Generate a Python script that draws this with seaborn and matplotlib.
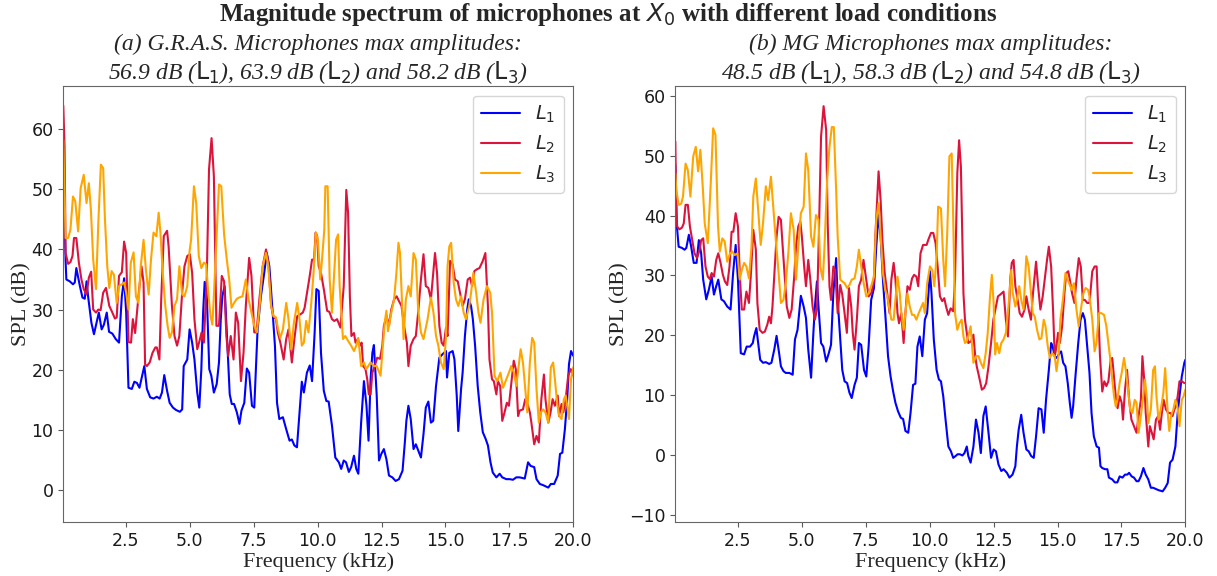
import matplotlib
matplotlib.use("Agg")
import matplotlib.pyplot as plt
import pandas as pd
import seaborn as sns

# ---- (a) G.R.A.S. microphones ----
gras_l1_f = [0.05, 0.14, 0.17, 0.30, 0.43, 0.50, 0.56, 0.70, 0.80, 0.89,
             0.96, 1.02, 1.15, 1.25, 1.44, 1.55, 1.64, 1.75, 1.84, 1.97,
             2.10, 2.23, 2.34, 2.43, 2.51, 2.60, 2.73, 2.83, 2.93, 3.03,
             3.12, 3.22, 3.32, 3.45, 3.58, 3.71, 3.82, 3.91, 4.00, 4.11,
             4.21, 4.34, 4.46, 4.61, 4.70, 4.76, 4.90, 4.99, 5.09, 5.18,
             5.29, 5.37, 5.45, 5.52, 5.58, 5.66, 5.76, 5.84, 5.94, 6.05,
             6.14, 6.21, 6.27, 6.36, 6.47, 6.56, 6.64, 6.73, 6.84, 6.94,
             7.02, 7.13, 7.23, 7.32, 7.43, 7.52, 7.65, 7.78, 7.91, 8.01,
             8.11, 8.24, 8.33, 8.41, 8.50, 8.64, 8.77, 8.90, 8.99, 9.09,
             9.19, 9.29, 9.38, 9.46, 9.58, 9.69, 9.78, 9.88, 9.95, 10.04,
             10.13, 10.24, 10.34, 10.43, 10.56, 10.69, 10.83, 10.92, 11.02, 11.11,
             11.22, 11.31, 11.42, 11.51, 11.59, 11.70, 11.81, 11.91, 11.99, 12.07,
             12.14, 12.20, 12.31, 12.40, 12.49, 12.59, 12.69, 12.79, 12.92, 13.05,
             13.18, 13.32, 13.41, 13.47, 13.55, 13.64, 13.75, 13.84, 13.94, 14.04,
             14.14, 14.23, 14.33, 14.43, 14.52, 14.63, 14.76, 14.89, 15.02, 15.06,
             15.15, 15.28, 15.35, 15.44, 15.50, 15.61, 15.67, 15.76, 15.85, 15.91,
             16.00, 16.07, 16.16, 16.26, 16.36, 16.46, 16.57, 16.66, 16.76, 16.85,
             16.99, 17.12, 17.22, 17.38, 17.51, 17.64, 17.77, 17.90, 18.10, 18.23,
             18.33, 18.47, 18.56, 18.69, 18.82, 19.02, 19.12, 19.25, 19.39, 19.48,
             19.57, 19.67, 19.76, 19.83, 19.91, 20.00]
gras_l1_db = [56.9, 38.1, 35.0, 34.7, 34.2, 34.5, 36.9, 33.9, 32.0, 31.8,
              34.7, 32.2, 27.8, 25.9, 29.5, 26.7, 27.5, 29.5, 26.3, 26.0,
              25.1, 24.5, 32.2, 35.2, 29.5, 17.0, 16.8, 18.0, 17.8, 17.0,
              18.7, 20.6, 16.8, 15.4, 15.2, 15.5, 15.2, 16.2, 19.1, 16.5,
              14.5, 13.7, 13.3, 13.0, 13.4, 20.6, 21.7, 26.7, 24.5, 21.7,
              16.2, 13.7, 20.1, 29.5, 34.6, 32.8, 20.1, 19.0, 16.2, 17.6,
              21.2, 28.4, 32.2, 33.9, 23.9, 15.9, 14.3, 14.3, 12.9, 11.0,
              13.2, 14.5, 20.2, 19.5, 14.0, 13.7, 26.7, 32.2, 36.1, 39.4,
              37.2, 29.5, 23.9, 14.5, 11.8, 12.1, 10.1, 8.2, 8.4, 7.4,
              7.1, 12.9, 18.0, 16.2, 19.5, 20.7, 18.1, 26.0, 33.4, 33.1,
              22.8, 16.5, 14.8, 14.7, 10.7, 5.4, 4.6, 3.5, 4.9, 4.6,
              3.0, 3.8, 5.7, 3.5, 2.7, 11.2, 18.1, 14.0, 8.2, 18.4,
              22.8, 24.1, 15.7, 4.9, 6.0, 6.8, 5.1, 2.4, 2.1, 1.5,
              1.8, 3.2, 7.9, 11.5, 14.0, 11.8, 6.8, 7.6, 6.5, 5.4,
              9.3, 13.7, 14.7, 11.2, 11.5, 17.3, 22.0, 22.6, 23.1, 18.7,
              22.8, 23.1, 21.7, 15.7, 9.8, 16.8, 19.5, 25.6, 30.0, 31.7,
              30.6, 28.4, 23.9, 17.3, 12.9, 9.6, 8.5, 7.4, 4.6, 2.9,
              2.1, 2.7, 2.1, 1.8, 1.8, 1.7, 2.1, 2.1, 1.9, 4.6,
              4.0, 3.8, 1.8, 1.0, 0.8, 0.4, 1.0, 1.0, 2.4, 6.0,
              6.2, 10.1, 15.1, 20.9, 23.1, 22.3]

gras_l2_f = [0.05, 0.10, 0.14, 0.24, 0.33, 0.41, 0.47, 0.56, 0.66, 0.76,
             0.85, 0.96, 1.05, 1.14, 1.22, 1.33, 1.42, 1.51, 1.61, 1.72,
             1.78, 1.85, 1.97, 2.07, 2.14, 2.23, 2.34, 2.43, 2.51, 2.60,
             2.70, 2.77, 2.86, 2.99, 3.11, 3.19, 3.25, 3.32, 3.43, 3.54,
             3.65, 3.71, 3.81, 3.88, 3.98, 4.11, 4.17, 4.30, 4.40, 4.50,
             4.59, 4.70, 4.79, 4.90, 5.00, 5.09, 5.18, 5.29, 5.38, 5.46,
             5.55, 5.66, 5.75, 5.85, 5.94, 6.04, 6.14, 6.25, 6.34, 6.43,
             6.50, 6.60, 6.71, 6.80, 6.89, 7.00, 7.10, 7.19, 7.32, 7.41,
             7.52, 7.61, 7.72, 7.85, 7.98, 8.07, 8.18, 8.27, 8.37, 8.44,
             8.54, 8.67, 8.77, 8.86, 8.99, 9.09, 9.20, 9.32, 9.42, 9.49,
             9.59, 9.69, 9.78, 9.86, 9.92, 9.98, 10.04, 10.13, 10.24, 10.37,
             10.46, 10.56, 10.65, 10.76, 10.89, 11.02, 11.12, 11.19, 11.26, 11.32,
             11.42, 11.48, 11.57, 11.65, 11.72, 11.78, 11.87, 11.94, 12.00, 12.07,
             12.14, 12.23, 12.33, 12.44, 12.53, 12.59, 12.70, 12.79, 12.88, 12.99,
             13.09, 13.18, 13.28, 13.38, 13.49, 13.55, 13.64, 13.75, 13.84, 13.93,
             14.04, 14.14, 14.23, 14.33, 14.43, 14.50, 14.59, 14.67, 14.76, 14.85,
             14.93, 15.02, 15.08, 15.18, 15.28, 15.37, 15.48, 15.57, 15.67, 15.76,
             15.87, 15.96, 16.04, 16.13, 16.23, 16.33, 16.46, 16.56, 16.66, 16.72,
             16.82, 16.89, 16.99, 17.05, 17.14, 17.22, 17.31, 17.40, 17.48, 17.57,
             17.67, 17.75, 17.84, 17.90, 18.03, 18.12, 18.23, 18.30, 18.36, 18.47,
             18.56, 18.65, 18.75, 18.85, 18.91, 19.02, 19.11, 19.19, 19.28, 19.39,
             19.44, 19.54, 19.61, 19.70, 19.80, 19.90, 20.00]
gras_l2_db = [63.9, 57.1, 39.4, 37.6, 37.9, 38.9, 41.9, 41.9, 37.8, 35.0,
              33.4, 32.5, 35.3, 36.3, 30.0, 29.5, 30.0, 29.9, 32.8, 33.6,
              32.2, 30.6, 29.5, 28.5, 28.7, 35.6, 36.2, 41.3, 39.4, 24.6,
              24.5, 28.4, 26.1, 32.2, 37.2, 34.5, 20.9, 20.6, 21.2, 22.8,
              23.7, 23.7, 21.7, 31.7, 42.2, 43.1, 40.5, 30.6, 25.6, 24.0,
              25.6, 32.8, 37.2, 38.9, 39.2, 36.1, 28.4, 23.4, 24.8, 26.2,
              24.5, 35.0, 53.3, 58.5, 52.2, 27.3, 27.3, 35.6, 34.7, 25.6,
              22.3, 25.6, 21.7, 29.5, 27.8, 18.1, 22.8, 30.6, 38.6, 35.6,
              26.2, 26.2, 31.7, 37.2, 40.0, 37.8, 30.6, 28.9, 28.4, 26.2,
              24.5, 21.7, 25.1, 26.7, 21.2, 25.1, 28.9, 29.2, 29.5, 30.3,
              33.0, 35.6, 38.3, 38.3, 42.8, 42.2, 37.2, 36.1, 33.4, 29.8,
              29.6, 28.4, 28.1, 28.4, 27.0, 33.9, 49.9, 46.1, 32.2, 25.6,
              26.1, 24.5, 25.1, 24.0, 24.5, 20.6, 20.1, 18.4, 15.9, 15.9,
              19.5, 20.6, 22.0, 21.8, 24.0, 27.3, 28.9, 27.3, 30.0, 31.7,
              32.2, 31.4, 30.6, 27.3, 24.5, 20.6, 24.0, 25.1, 25.6, 29.5,
              35.0, 39.2, 33.9, 33.6, 31.7, 35.0, 39.4, 36.1, 27.3, 24.5,
              24.0, 27.0, 25.6, 38.1, 37.5, 35.0, 34.7, 32.8, 30.6, 31.7,
              35.0, 35.3, 33.9, 36.4, 36.7, 36.9, 38.1, 39.4, 30.6, 21.7,
              18.4, 18.1, 15.9, 18.1, 17.3, 11.5, 12.9, 14.5, 14.0, 17.6,
              21.5, 20.1, 12.3, 13.2, 13.4, 15.1, 14.0, 12.9, 11.2, 7.6,
              9.0, 7.9, 15.1, 19.2, 15.1, 11.2, 12.9, 15.1, 14.0, 15.7,
              12.3, 14.3, 12.9, 15.1, 19.0, 20.1, 19.0]

gras_l3_f = [0.05, 0.14, 0.24, 0.33, 0.43, 0.52, 0.63, 0.73, 0.85, 0.96,
             1.05, 1.13, 1.22, 1.33, 1.42, 1.52, 1.61, 1.68, 1.77, 1.85,
             1.94, 2.03, 2.14, 2.23, 2.34, 2.43, 2.51, 2.60, 2.69, 2.80,
             2.89, 2.99, 3.08, 3.19, 3.28, 3.39, 3.48, 3.58, 3.69, 3.78,
             3.85, 3.94, 4.04, 4.13, 4.21, 4.30, 4.40, 4.50, 4.59, 4.70,
             4.79, 4.90, 4.99, 5.05, 5.16, 5.25, 5.35, 5.45, 5.55, 5.64,
             5.72, 5.81, 5.88, 5.94, 6.04, 6.14, 6.23, 6.34, 6.43, 6.54,
             6.63, 6.73, 6.84, 6.93, 7.06, 7.19, 7.30, 7.41, 7.52, 7.62,
             7.72, 7.85, 7.98, 8.07, 8.18, 8.27, 8.37, 8.44, 8.54, 8.64,
             8.77, 8.86, 8.96, 9.07, 9.20, 9.29, 9.38, 9.46, 9.55, 9.64,
             9.74, 9.84, 9.93, 10.01, 10.10, 10.17, 10.26, 10.30, 10.39, 10.47,
             10.56, 10.72, 10.80, 10.86, 10.99, 11.08, 11.19, 11.31, 11.42, 11.51,
             11.59, 11.70, 11.81, 11.90, 12.07, 12.20, 12.31, 12.46, 12.53, 12.62,
             12.69, 12.75, 12.88, 12.99, 13.08, 13.16, 13.22, 13.29, 13.36, 13.45,
             13.55, 13.64, 13.75, 13.84, 13.93, 14.04, 14.14, 14.30, 14.43, 14.53,
             14.63, 14.72, 14.82, 14.93, 15.02, 15.08, 15.15, 15.22, 15.32, 15.41,
             15.50, 15.61, 15.71, 15.80, 15.93, 16.00, 16.09, 16.20, 16.29, 16.37,
             16.49, 16.62, 16.75, 16.82, 16.92, 17.02, 17.15, 17.25, 17.38, 17.48,
             17.57, 17.68, 17.77, 17.86, 17.94, 18.03, 18.12, 18.20, 18.30, 18.39,
             18.47, 18.56, 18.65, 18.73, 18.82, 18.91, 19.02, 19.12, 19.21, 19.28,
             19.37, 19.45, 19.54, 19.63, 19.70, 19.76, 19.83, 19.91, 20.00]
gras_l3_db = [58.2, 41.9, 41.9, 43.3, 48.8, 48.0, 43.0, 50.2, 52.4, 47.7,
              51.0, 46.6, 38.3, 33.4, 44.4, 54.1, 53.5, 45.0, 37.2, 33.6,
              36.4, 35.8, 31.1, 33.9, 34.2, 34.5, 32.8, 30.0, 37.8, 39.5,
              32.2, 31.1, 37.2, 41.6, 36.7, 32.5, 38.3, 42.8, 42.2, 46.1,
              42.8, 36.1, 30.6, 27.3, 25.3, 26.2, 30.6, 31.7, 37.2, 32.5,
              32.2, 33.9, 39.7, 41.6, 50.5, 47.7, 38.9, 36.9, 37.8, 37.5,
              32.8, 28.9, 27.5, 32.2, 41.6, 50.8, 50.5, 42.5, 38.9, 35.0,
              30.3, 31.1, 31.8, 32.0, 32.2, 35.0, 31.7, 29.5, 27.3, 26.2,
              30.0, 37.2, 39.4, 37.2, 30.6, 28.9, 28.7, 27.0, 25.3, 26.7,
              31.1, 28.4, 23.4, 27.8, 31.1, 28.4, 24.0, 24.5, 28.1, 26.2,
              30.6, 36.1, 42.8, 41.6, 35.0, 38.3, 43.3, 50.5, 50.5, 35.0,
              29.5, 41.6, 42.5, 33.9, 25.1, 25.6, 24.8, 24.0, 23.1, 24.0,
              25.3, 20.6, 21.2, 20.1, 21.2, 20.6, 20.6, 19.0, 22.8, 27.8,
              29.8, 26.4, 29.5, 31.7, 36.1, 41.1, 39.4, 32.2, 25.1, 31.7,
              33.9, 32.2, 39.4, 38.3, 30.0, 26.2, 25.1, 28.4, 32.0, 29.5,
              25.6, 24.0, 21.2, 20.1, 25.6, 37.2, 40.5, 41.1, 34.5, 31.7,
              30.6, 32.2, 29.5, 28.4, 30.6, 32.8, 36.1, 32.8, 29.5, 27.8,
              31.7, 33.9, 32.8, 29.5, 19.0, 18.1, 19.5, 17.0, 18.4, 19.5,
              20.6, 19.5, 17.3, 20.6, 23.4, 21.2, 16.8, 12.9, 21.2, 25.3,
              24.5, 16.8, 11.2, 12.9, 13.4, 12.9, 11.2, 20.4, 21.2, 18.4,
              14.3, 12.3, 11.8, 15.1, 15.7, 14.0, 11.8, 18.4, 20.4]

# ---- (b) MG microphones ----
mg_l1_f = [0.05, 0.09, 0.18, 0.31, 0.41, 0.48, 0.58, 0.67, 0.77, 0.88,
           0.97, 1.06, 1.14, 1.26, 1.36, 1.47, 1.56, 1.65, 1.73, 1.85,
           1.95, 2.08, 2.21, 2.31, 2.41, 2.50, 2.61, 2.74, 2.84, 2.97,
           3.08, 3.13, 3.22, 3.29, 3.37, 3.48, 3.59, 3.72, 3.81, 3.92,
           4.01, 4.11, 4.18, 4.28, 4.37, 4.51, 4.64, 4.73, 4.83, 4.96,
           5.07, 5.16, 5.25, 5.36, 5.45, 5.51, 5.59, 5.65, 5.75, 5.84,
           5.95, 6.04, 6.14, 6.23, 6.34, 6.40, 6.50, 6.58, 6.67, 6.77,
           6.86, 6.95, 7.06, 7.15, 7.23, 7.32, 7.43, 7.52, 7.61, 7.71,
           7.82, 7.91, 8.00, 8.08, 8.17, 8.26, 8.37, 8.47, 8.57, 8.66,
           8.76, 8.87, 8.96, 9.05, 9.16, 9.25, 9.35, 9.44, 9.52, 9.61,
           9.71, 9.81, 9.90, 10.01, 10.07, 10.16, 10.27, 10.36, 10.44, 10.53,
           10.62, 10.73, 10.83, 10.92, 11.01, 11.09, 11.18, 11.28, 11.36, 11.45,
           11.51, 11.60, 11.71, 11.81, 11.91, 12.00, 12.10, 12.19, 12.30, 12.40,
           12.50, 12.59, 12.69, 12.80, 12.89, 13.02, 13.12, 13.24, 13.35, 13.41,
           13.48, 13.58, 13.67, 13.78, 13.87, 13.97, 14.07, 14.16, 14.26, 14.37,
           14.46, 14.55, 14.66, 14.75, 14.81, 14.89, 14.98, 15.07, 15.14, 15.22,
           15.31, 15.40, 15.48, 15.55, 15.61, 15.70, 15.81, 15.90, 15.99, 16.07,
           16.16, 16.25, 16.33, 16.42, 16.53, 16.62, 16.68, 16.75, 16.86, 16.95,
           17.01, 17.14, 17.24, 17.34, 17.43, 17.54, 17.64, 17.73, 17.80, 17.90,
           17.99, 18.09, 18.17, 18.26, 18.36, 18.45, 18.55, 18.65, 18.74, 18.84,
           18.95, 19.11, 19.21, 19.31, 19.40, 19.50, 19.61, 19.70, 19.77, 19.86,
           19.96, 20.00]
mg_l1_db = [48.5, 39.3, 34.8, 34.6, 34.3, 34.6, 36.8, 34.8, 32.1, 32.1,
            35.9, 33.7, 29.3, 26.0, 27.6, 29.8, 26.8, 28.2, 29.3, 26.0,
            25.7, 24.8, 24.3, 30.4, 35.1, 29.3, 17.0, 16.8, 18.1, 18.1,
            18.7, 19.8, 21.2, 18.7, 15.9, 15.4, 15.5, 15.2, 15.4, 17.6,
            19.9, 17.0, 14.8, 14.0, 13.7, 13.7, 13.4, 19.3, 20.9, 26.6,
            24.8, 22.9, 17.6, 12.9, 20.4, 24.8, 29.0, 24.8, 18.7, 18.1,
            15.6, 16.8, 18.4, 27.0, 32.9, 25.9, 19.3, 14.2, 12.3, 12.0,
            10.4, 9.5, 11.7, 12.9, 18.7, 18.4, 14.2, 13.1, 18.1, 25.9,
            27.9, 34.8, 40.4, 36.5, 29.3, 23.7, 16.5, 13.1, 10.6, 8.7,
            7.3, 6.2, 6.0, 4.0, 3.7, 7.0, 11.7, 11.9, 18.1, 19.8,
            16.5, 22.6, 23.7, 30.7, 27.0, 19.3, 14.2, 12.6, 12.3, 9.8,
            5.9, 1.4, 0.6, -0.5, -0.2, 0.1, 0.1, -0.1, 0.3, 1.4,
            -0.2, -1.3, 1.4, 5.9, 3.7, 0.3, 6.5, 8.1, 3.7, -0.5,
            0.9, 0.6, -1.6, -2.7, -2.4, -3.0, -3.8, -3.3, -1.9, 1.4,
            4.2, 6.7, 3.7, 0.9, 0.6, -0.2, -0.5, 3.1, 7.8, 7.6,
            3.7, 9.2, 14.2, 18.7, 18.1, 16.5, 16.2, 17.0, 17.3, 15.4,
            14.8, 12.0, 8.7, 6.2, 8.1, 13.1, 18.7, 22.6, 23.7, 22.6,
            18.1, 13.7, 7.0, 3.1, 1.4, 1.2, -1.9, -2.2, -2.4, -2.4,
            -3.8, -4.1, -4.6, -4.6, -3.6, -3.8, -3.3, -3.3, -3.0, -3.6,
            -3.8, -4.4, -4.4, -3.6, -2.2, -3.3, -4.1, -5.5, -5.5, -5.7,
            -5.9, -6.1, -5.5, -4.7, -1.3, -0.8, 1.4, 7.0, 9.8, 13.1,
            15.4, 15.9]

mg_l2_f = [0.05, 0.07, 0.12, 0.21, 0.31, 0.38, 0.45, 0.54, 0.62, 0.71,
           0.80, 0.90, 1.00, 1.06, 1.14, 1.23, 1.32, 1.40, 1.47, 1.56,
           1.65, 1.73, 1.82, 1.91, 1.99, 2.08, 2.17, 2.25, 2.32, 2.41,
           2.50, 2.58, 2.65, 2.74, 2.83, 2.93, 3.00, 3.10, 3.20, 3.26,
           3.35, 3.46, 3.55, 3.65, 3.72, 3.79, 3.85, 3.92, 4.01, 4.09,
           4.18, 4.24, 4.34, 4.41, 4.51, 4.60, 4.70, 4.77, 4.86, 4.94,
           5.00, 5.09, 5.16, 5.25, 5.33, 5.42, 5.51, 5.59, 5.66, 5.75,
           5.85, 5.95, 6.01, 6.08, 6.14, 6.23, 6.30, 6.40, 6.50, 6.58,
           6.67, 6.76, 6.84, 6.93, 6.99, 7.06, 7.15, 7.23, 7.32, 7.41,
           7.52, 7.61, 7.71, 7.81, 7.88, 8.00, 8.08, 8.15, 8.24, 8.34,
           8.43, 8.50, 8.59, 8.66, 8.74, 8.80, 8.89, 8.98, 9.05, 9.13,
           9.22, 9.31, 9.39, 9.48, 9.55, 9.64, 9.74, 9.88, 9.94, 10.05,
           10.14, 10.23, 10.31, 10.40, 10.49, 10.57, 10.64, 10.73, 10.82, 10.92,
           10.99, 11.08, 11.15, 11.22, 11.32, 11.38, 11.45, 11.51, 11.62, 11.71,
           11.78, 11.84, 11.93, 12.04, 12.13, 12.21, 12.30, 12.40, 12.49, 12.59,
           12.67, 12.76, 12.89, 12.98, 13.06, 13.15, 13.21, 13.28, 13.35, 13.44,
           13.52, 13.61, 13.71, 13.78, 13.87, 13.96, 14.04, 14.16, 14.24, 14.33,
           14.42, 14.53, 14.59, 14.66, 14.75, 14.83, 14.89, 14.94, 15.02, 15.09,
           15.18, 15.27, 15.34, 15.42, 15.48, 15.57, 15.66, 15.74, 15.83, 15.91,
           15.99, 16.07, 16.16, 16.25, 16.36, 16.45, 16.53, 16.59, 16.66, 16.75,
           16.83, 16.91, 16.99, 17.08, 17.14, 17.24, 17.30, 17.35, 17.43, 17.51,
           17.56, 17.64, 17.72, 17.80, 17.89, 17.99, 18.09, 18.17, 18.26, 18.32,
           18.39, 18.45, 18.55, 18.61, 18.69, 18.76, 18.85, 18.94, 19.01, 19.08,
           19.15, 19.24, 19.33, 19.41, 19.50, 19.57, 19.63, 19.70, 19.77, 19.86,
           19.96]
mg_l2_db = [52.4, 46.0, 38.2, 37.7, 38.0, 38.7, 41.8, 41.8, 38.2, 35.9,
            33.7, 32.9, 34.3, 35.9, 36.2, 31.5, 29.8, 29.4, 30.4, 29.8,
            32.6, 33.7, 32.1, 30.1, 29.0, 28.4, 31.5, 37.3, 37.3, 40.4,
            38.2, 29.3, 24.3, 24.3, 27.3, 25.4, 29.8, 37.6, 34.3, 25.4,
            20.9, 20.4, 20.6, 21.8, 23.1, 22.0, 24.8, 29.8, 36.5, 39.8,
            39.3, 35.4, 29.3, 24.8, 22.9, 24.3, 29.8, 34.8, 38.2, 39.0,
            36.5, 31.5, 28.2, 32.6, 29.3, 24.8, 22.6, 24.3, 35.9, 53.2,
            58.3, 54.3, 38.7, 28.2, 25.9, 31.5, 30.9, 23.7, 28.4, 26.8,
            23.7, 20.4, 27.9, 24.8, 20.4, 17.6, 22.6, 28.2, 29.3, 32.6,
            29.3, 26.5, 27.0, 28.7, 37.1, 47.4, 42.6, 35.9, 30.4, 27.0,
            23.7, 29.3, 32.1, 29.3, 23.7, 22.0, 23.7, 18.7, 23.7, 28.2,
            27.6, 29.5, 30.1, 29.8, 28.2, 33.7, 35.1, 35.1, 35.9, 37.1,
            37.1, 35.4, 31.5, 26.5, 25.7, 26.2, 24.8, 23.4, 24.5, 24.0,
            29.3, 47.1, 52.6, 48.2, 27.0, 22.6, 20.4, 18.7, 19.0, 20.1,
            16.5, 14.8, 13.1, 10.9, 11.2, 12.0, 14.8, 18.7, 22.6, 24.8,
            26.5, 26.8, 27.3, 22.6, 19.8, 29.3, 32.1, 32.6, 28.2, 25.9,
            23.7, 23.1, 24.3, 26.5, 24.3, 22.6, 27.0, 32.3, 28.2, 24.3,
            26.5, 30.4, 32.6, 34.8, 31.5, 23.7, 16.5, 17.6, 20.4, 18.7,
            21.5, 27.0, 30.4, 30.7, 29.3, 27.0, 25.4, 29.3, 32.9, 31.5,
            25.9, 25.9, 25.4, 25.4, 30.7, 31.5, 31.5, 24.8, 16.5, 10.6,
            12.3, 11.5, 12.3, 15.9, 16.2, 11.5, 8.7, 7.8, 9.8, 8.7,
            5.9, 10.9, 14.2, 9.2, 5.9, 4.8, 3.7, 6.5, 9.2, 16.5,
            12.6, 7.0, 1.4, 4.8, 3.7, 2.6, 5.9, 6.5, 4.2, 7.0,
            9.2, 7.6, 7.0, 7.0, 6.5, 7.6, 8.1, 9.8, 12.3, 12.3,
            12.0]

mg_l3_f = [0.05, 0.09, 0.18, 0.28, 0.35, 0.45, 0.54, 0.64, 0.75, 0.85,
           0.94, 1.03, 1.13, 1.20, 1.32, 1.43, 1.53, 1.62, 1.72, 1.79,
           1.89, 1.98, 2.08, 2.19, 2.28, 2.37, 2.48, 2.57, 2.65, 2.74,
           2.83, 2.93, 3.03, 3.10, 3.20, 3.29, 3.39, 3.48, 3.59, 3.68,
           3.79, 3.88, 3.98, 4.07, 4.18, 4.28, 4.37, 4.47, 4.57, 4.68,
           4.77, 4.86, 4.96, 5.07, 5.16, 5.25, 5.36, 5.45, 5.55, 5.65,
           5.72, 5.82, 5.88, 5.99, 6.08, 6.17, 6.25, 6.34, 6.40, 6.50,
           6.58, 6.67, 6.77, 6.86, 6.95, 7.06, 7.15, 7.23, 7.32, 7.43,
           7.52, 7.61, 7.71, 7.82, 7.91, 8.00, 8.08, 8.17, 8.26, 8.34,
           8.43, 8.50, 8.59, 8.66, 8.74, 8.83, 8.89, 8.98, 9.05, 9.13,
           9.22, 9.31, 9.39, 9.48, 9.57, 9.68, 9.74, 9.81, 9.90, 10.01,
           10.10, 10.18, 10.27, 10.33, 10.44, 10.53, 10.60, 10.69, 10.77, 10.86,
           10.92, 10.99, 11.08, 11.16, 11.25, 11.32, 11.38, 11.45, 11.51, 11.60,
           11.71, 11.81, 11.91, 12.00, 12.10, 12.19, 12.27, 12.36, 12.43, 12.50,
           12.56, 12.63, 12.72, 12.80, 12.89, 12.98, 13.08, 13.19, 13.25, 13.35,
           13.41, 13.50, 13.58, 13.67, 13.78, 13.87, 13.96, 14.03, 14.11, 14.20,
           14.29, 14.37, 14.46, 14.53, 14.62, 14.70, 14.79, 14.89, 14.96, 15.05,
           15.11, 15.21, 15.31, 15.40, 15.48, 15.55, 15.64, 15.74, 15.83, 15.93,
           16.01, 16.10, 16.19, 16.25, 16.36, 16.45, 16.52, 16.62, 16.71, 16.82,
           16.91, 16.99, 17.08, 17.14, 17.21, 17.28, 17.34, 17.43, 17.51, 17.60,
           17.67, 17.76, 17.84, 17.93, 18.02, 18.09, 18.17, 18.26, 18.35, 18.42,
           18.50, 18.55, 18.65, 18.74, 18.81, 18.87, 18.95, 19.04, 19.14, 19.21,
           19.31, 19.37, 19.44, 19.53, 19.61, 19.70, 19.77, 19.86, 19.93, 20.00]
mg_l3_db = [47.1, 44.3, 41.8, 42.0, 43.2, 48.7, 47.6, 43.2, 49.9, 51.5,
            47.4, 51.0, 44.3, 38.7, 35.4, 44.9, 54.6, 53.5, 38.2, 34.0,
            36.2, 35.7, 32.3, 33.7, 34.0, 33.4, 33.7, 29.3, 30.9, 32.1,
            31.5, 29.5, 34.8, 43.2, 46.2, 41.0, 35.1, 38.7, 44.9, 42.6,
            46.5, 41.5, 35.9, 31.5, 25.4, 25.9, 28.7, 33.7, 40.4, 37.6,
            29.3, 34.8, 40.4, 41.5, 50.4, 47.6, 36.5, 34.8, 40.1, 39.3,
            31.5, 29.3, 34.3, 46.0, 51.5, 54.8, 54.8, 44.3, 36.5, 29.3,
            29.0, 28.7, 27.9, 28.4, 29.3, 29.5, 31.5, 34.3, 31.5, 28.4,
            26.5, 27.0, 28.2, 29.8, 39.3, 42.1, 36.5, 30.4, 27.6, 26.5,
            24.3, 22.6, 22.6, 25.9, 29.8, 27.0, 23.7, 20.9, 23.7, 27.0,
            24.8, 23.4, 23.4, 22.6, 23.7, 24.8, 25.4, 23.7, 28.7, 31.5,
            30.9, 28.2, 33.2, 41.5, 41.2, 32.6, 28.2, 37.6, 49.9, 50.4,
            39.3, 23.7, 20.9, 22.0, 22.6, 19.8, 18.7, 19.0, 19.8, 21.5,
            15.4, 16.5, 16.5, 15.4, 14.5, 17.0, 20.4, 26.5, 30.1, 25.4,
            16.8, 18.7, 17.0, 18.7, 19.3, 20.4, 24.8, 30.9, 27.0, 24.8,
            25.9, 28.2, 25.9, 24.3, 33.2, 31.5, 27.0, 23.7, 23.1, 20.9,
            19.3, 19.5, 22.6, 21.5, 18.1, 16.2, 17.0, 16.5, 14.0, 17.0,
            22.6, 25.9, 30.4, 29.3, 28.4, 27.6, 28.7, 24.3, 21.5, 24.8,
            27.0, 27.9, 27.6, 26.5, 22.6, 17.3, 18.7, 23.7, 23.7, 23.4,
            21.5, 18.7, 15.4, 12.6, 9.8, 8.1, 9.2, 12.0, 13.7, 16.2,
            14.2, 10.9, 7.6, 7.0, 9.2, 8.7, 3.7, 6.5, 9.8, 12.6,
            9.2, 5.3, 7.6, 14.2, 14.8, 9.8, 5.9, 7.6, 10.4, 14.5,
            7.0, 4.0, 6.5, 7.6, 9.2, 7.8, 4.8, 9.2, 9.8, 10.9]

load_labels = ["$L_1$", "$L_2$", "$L_3$"]
palette = {"$L_1$": "blue", "$L_2$": "crimson", "$L_3$": "orange"}

panels = [
    ("(a) G.R.A.S. Microphones max amplitudes:\n"
     "56.9 dB ($\\mathrm{L}_1$), 63.9 dB ($\\mathrm{L}_2$) and 58.2 dB ($\\mathrm{L}_3$)",
     [(gras_l1_f, gras_l1_db), (gras_l2_f, gras_l2_db), (gras_l3_f, gras_l3_db)],
     (-5.3, 67.2)),
    ("(b) MG Microphones max amplitudes:\n"
     "48.5 dB ($\\mathrm{L}_1$), 58.3 dB ($\\mathrm{L}_2$) and 54.8 dB ($\\mathrm{L}_3$)",
     [(mg_l1_f, mg_l1_db), (mg_l2_f, mg_l2_db), (mg_l3_f, mg_l3_db)],
     (-11.2, 61.7)),
]

sns.set_style("ticks")
plt.rcParams["mathtext.fontset"] = "dejavusans"
serif = "Liberation Serif"

fig, axes = plt.subplots(1, 2, figsize=(12.17, 5.76), dpi=100)
fig.subplots_adjust(left=0.052, right=0.974, bottom=0.094, top=0.851, wspace=0.2)

for ax, (title, series, ylim) in zip(axes, panels):
    frames = []
    for label, (f, db) in zip(load_labels, series):
        frames.append(pd.DataFrame({"freq": f, "spl": db, "load": label}))
    df = pd.concat(frames, ignore_index=True)

    sns.lineplot(data=df, x="freq", y="spl", hue="load", palette=palette,
                 estimator=None, errorbar=None, linewidth=1.5, ax=ax)

    ax.set_xlim(0.05, 20)
    ax.set_ylim(*ylim)
    ax.set_xticks([2.5, 5.0, 7.5, 10.0, 12.5, 15.0, 17.5, 20.0])
    ax.tick_params(labelsize=12.5, color="0.35", labelcolor="0.1")
    for spine in ax.spines.values():
        spine.set_color("0.4")
    ax.set_xlabel("Frequency (kHz)", fontsize=16, family=serif, labelpad=2)
    ax.set_ylabel("SPL (dB)", fontsize=16, family=serif, labelpad=0)
    ax.set_title(title, fontsize=17, family=serif, style="italic", pad=4)
    ax.legend(loc="upper right", fontsize=14, title=None, labelspacing=0.45)

fig.suptitle("Magnitude spectrum of microphones at $X_0$ with different load conditions",
             fontsize=18, family=serif, fontweight="bold", y=0.998)

fig.savefig("out.png", dpi=100)
